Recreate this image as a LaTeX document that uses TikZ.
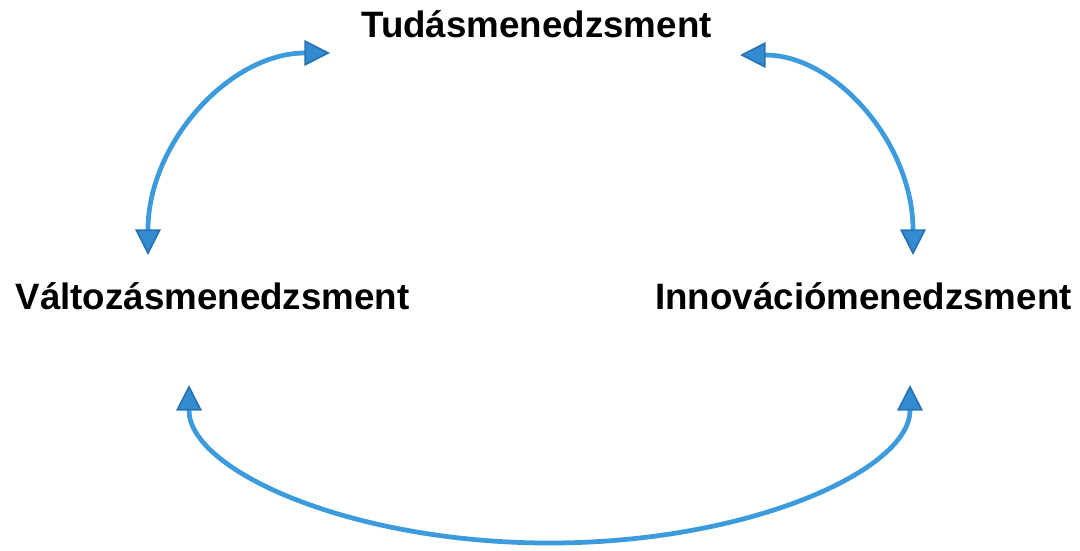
\documentclass[tikz,border=0pt]{standalone}
\usepackage{fontspec}
\setmainfont{Liberation Sans}
\usetikzlibrary{arrows.meta}
\definecolor{arcblue}{RGB}{59,155,220}
\definecolor{tipfill}{RGB}{52,140,208}
\definecolor{tipedge}{RGB}{40,115,180}
\tikzset{
  label/.style={font=\fontsize{10.45pt}{12pt}\selectfont\bfseries, inner sep=0pt, anchor=base},
  arc/.style={draw=arcblue, line width=1.35pt,
    {Triangle[length=7.3pt,width=7.3pt,fill=tipfill,color=tipedge,line width=0.5pt]}-{Triangle[length=7.3pt,width=7.3pt,fill=tipfill,color=tipedge,line width=0.5pt]}}
}
\begin{document}
\begin{tikzpicture}
\useasboundingbox (0,0) rectangle (10.8,5.5);
\node[label] (T) at (5.365,5.13) {Tudásmenedzsment};
\node[label] (V) at (2.125,2.41) {Változásmenedzsment};
\node[label] (I) at (8.635,2.41) {Innovációmenedzsment};
\coordinate (a1) at (1.48,2.95);
\coordinate (a2) at (3.30,4.97);
\coordinate (b1) at (7.40,4.95);
\coordinate (b2) at (9.13,2.95);
\coordinate (c1) at (1.89,1.65);
\coordinate (c2) at (9.10,1.65);
\coordinate (cb) at (5.495,0.07);
\path[arc] (a1) .. controls (1.48,4.07) and (2.30,4.97) .. (a2);
\path[arc] (b1) .. controls (8.36,4.95) and (9.13,4.06) .. (b2);
\path[arc] (c1) .. controls (1.89,0.80) and (3.50,0.07) .. (cb)
  .. controls (7.49,0.07) and (9.10,0.80) .. (c2);
\end{tikzpicture}
\end{document}
